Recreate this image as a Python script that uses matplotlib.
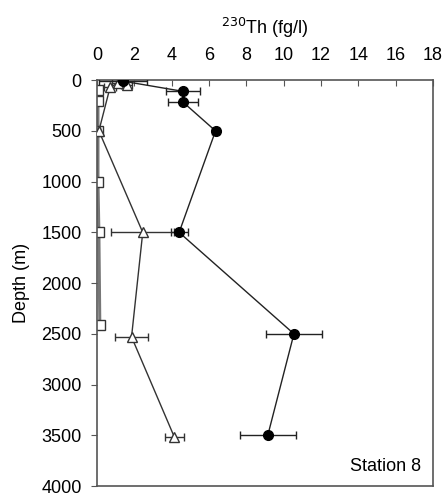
import matplotlib
matplotlib.use("Agg")
import matplotlib.pyplot as plt

plt.rcParams['font.family'] = ['Liberation Sans', 'DejaVu Sans']

# Dissolved 230Th profile (filled circles)
circ_depth = [10, 110, 215, 500, 1500, 2500, 3500]
circ_th = [1.4, 4.6, 4.6, 6.35, 4.4, 10.55, 9.15]
circ_err = [1.3, 0.9, 0.8, 0.2, 0.45, 1.5, 1.5]

# Particulate 230Th profile (open triangles)
tri_depth = [50, 30, 70, 500, 1500, 2530, 3520]
tri_th = [1.6, 1.1, 0.7, 0.1, 2.45, 1.85, 4.15]
tri_err = [0.3, 0.3, 0.3, 0.05, 1.7, 0.86, 0.5]

# Third profile (open squares)
sq_depth = [100, 210, 500, 1000, 1500, 2410]
sq_th = [0.05, 0.05, 0.05, 0.05, 0.1, 0.15]

fig = plt.figure(figsize=(4.45, 4.98), dpi=100)
ax = fig.add_axes([0.218, 0.024, 0.755, 0.815])

axis_col = '#555555'
fs = 13

ax.plot(sq_th, sq_depth, color='#777777', lw=2.2, marker='s', ms=7,
        mfc='white', mec='#333333', mew=1.0, zorder=2)
ax.errorbar(tri_th, tri_depth, xerr=tri_err, color='#333333', lw=1.0,
            marker='^', ms=7, mfc='white', mec='#333333', mew=1.0,
            capsize=3, elinewidth=1.0, zorder=3)
ax.errorbar(circ_th, circ_depth, xerr=circ_err, color='#222222', lw=1.0,
            marker='o', ms=7, mfc='black', mec='black',
            capsize=3, elinewidth=1.0, zorder=4)

ax.set_xlim(0, 18)
ax.set_ylim(4000, 0)
ax.set_xticks(range(0, 19, 2))
ax.set_yticks(range(0, 4001, 500))
ax.xaxis.tick_top()
ax.xaxis.set_label_position('top')
ax.tick_params(axis='x', direction='in', length=4, color=axis_col,
               labelsize=fs, pad=12)
ax.tick_params(axis='y', direction='out', length=4, color=axis_col,
               labelsize=fs, pad=7)
for s in ax.spines.values():
    s.set_color(axis_col)
    s.set_linewidth(1.2)

ax.set_xlabel('$^{230}$Th (fg/l)', fontsize=fs, labelpad=9)
ax.set_ylabel('Depth (m)', fontsize=fs, labelpad=8)
ax.text(0.964, 0.037, 'Station 8', transform=ax.transAxes, ha='right',
        va='baseline', fontsize=fs)

fig.savefig('out.png', dpi=100)
